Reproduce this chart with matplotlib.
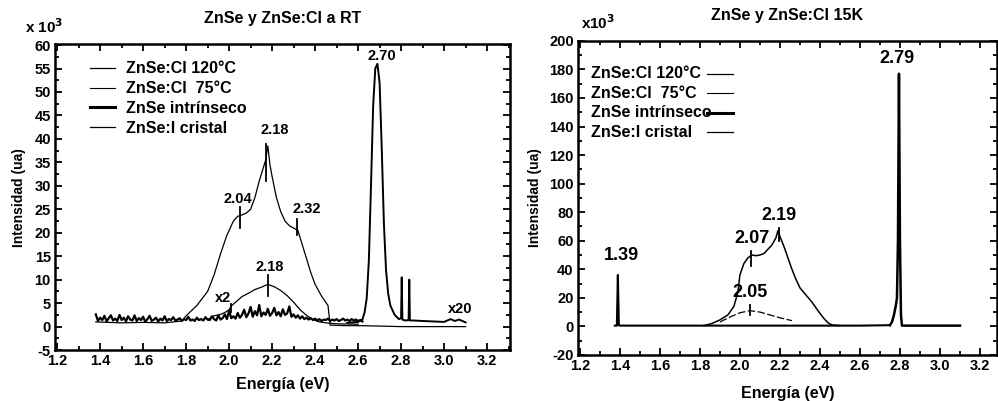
import numpy as np
import matplotlib
matplotlib.use("Agg")
import matplotlib.pyplot as plt
from matplotlib.ticker import MultipleLocator
from matplotlib.lines import Line2D

plt.rcParams['font.family'] = ['Liberation Sans', 'DejaVu Sans']
plt.rcParams['font.weight'] = 'bold'
plt.rcParams['axes.unicode_minus'] = False

# ---------------- left panel: room temperature ----------------
rt_cl120_e = [1.38, 1.50, 1.60, 1.70, 1.78, 1.80, 1.85, 1.90, 1.93, 1.96, 1.99, 2.02, 2.04,
              2.06, 2.08, 2.10, 2.12, 2.14, 2.16, 2.17, 2.18, 2.19, 2.20, 2.22, 2.24, 2.26,
              2.28, 2.30, 2.32, 2.34, 2.36, 2.38, 2.40, 2.43, 2.46, 2.47, 2.55, 2.62,
              2.80, 3.10]
rt_cl120_i = [1.0, 0.8, 0.9, 0.8, 1.2, 2.3, 4.5, 7.5, 11.0, 15.5, 19.5, 22.5, 23.5,
              23.8, 24.2, 25.0, 27.5, 31.0, 34.0, 35.5, 38.5, 34.5, 32.0, 27.5, 24.5, 22.5,
              21.5, 21.0, 20.5, 17.5, 14.5, 11.5, 9.0, 6.5, 4.5, 0.3, 0.2, 0.2,
              0.0, 0.0]

rt_cl75_e = [1.90, 1.93, 1.96, 1.98, 2.00, 2.01, 2.03, 2.06, 2.09, 2.12, 2.15, 2.18, 2.21,
             2.24, 2.27, 2.30, 2.33, 2.36, 2.39, 2.42, 2.45, 2.50, 2.60]
rt_cl75_i = [1.5, 2.3, 2.6, 3.0, 3.6, 4.4, 5.2, 6.4, 7.1, 7.9, 8.4, 9.0, 8.5,
             7.7, 6.6, 5.2, 3.6, 2.4, 1.5, 1.0, 0.8, 0.6, 0.5]

rt_intr_i = [2.6, 1.2, 1.9, 1.4, 2.3, 1.1, 1.8, 2.4, 1.3, 1.7,
             1.2, 2.5, 1.4, 1.9, 1.1, 2.2, 1.5, 1.3, 2.4, 1.2,
             1.8, 1.4, 2.1, 1.0, 1.6, 2.3, 1.2, 1.5, 1.9, 1.1,
             1.7, 1.3, 2.2, 1.2, 1.6, 1.4, 2.0, 1.3, 1.5, 1.8,
             1.2, 1.6, 1.4, 2.1, 1.3, 1.5, 1.2, 1.9, 1.4, 1.6,
             1.3, 2.0, 1.5, 1.4, 2.2, 1.6, 1.3, 2.4, 1.5, 1.8,
             2.6, 1.6, 3.4, 1.8, 2.2, 1.7, 2.9, 1.9, 2.5, 3.6,
             2.0, 2.8, 4.2, 2.1, 3.3, 2.4, 4.6, 2.2, 3.0, 2.5,
             3.8, 2.3, 2.9, 4.0, 2.4, 3.1, 2.2, 3.7, 2.5, 2.8,
             4.3, 2.1, 2.6, 1.9, 2.4, 1.7, 2.2, 1.6, 1.9, 1.5,
             1.8, 1.4, 1.7, 1.3, 1.6, 1.2, 1.5, 1.4, 1.7, 1.2,
             1.5, 1.3, 1.6, 1.2, 1.4, 1.7, 1.3, 1.5, 1.2, 1.6,
             1.3, 1.5, 1.2, 1.4, 1.1]
rt_intr_e = np.linspace(1.38, 2.62, len(rt_intr_i))

rt_cris_e = [2.55, 2.60, 2.62, 2.63, 2.64, 2.65, 2.66, 2.67, 2.68, 2.69, 2.70, 2.71, 2.72,
             2.73, 2.74, 2.75, 2.77, 2.79, 2.80, 2.803, 2.806, 2.82, 2.835, 2.838, 2.841,
             2.86, 2.90, 2.95, 3.00, 3.03, 3.05, 3.07, 3.10]
rt_cris_i = [0.8, 1.0, 1.5, 3.0, 6.0, 14.0, 30.0, 47.0, 55.0, 56.0, 52.0, 38.0, 22.0,
             12.0, 7.0, 4.5, 2.5, 1.6, 1.8, 10.5, 1.5, 1.3, 1.4, 10.0, 1.3,
             1.3, 1.2, 1.1, 1.0, 1.6, 1.2, 1.5, 0.9]

# peak marks (energy, low, high) and labels (text, x, y)
rt_marks = [(2.05, 21.0, 25.5), (2.17, 31.0, 39.0), (2.316, 19.5, 23.0),
            (2.18, 6.6, 11.0), (2.01, 3.2, 4.8)]
rt_labels = [("2.04", 2.04, 25.6), ("2.18", 2.21, 40.3), ("2.32", 2.36, 23.5),
             ("2.18", 2.19, 11.3), ("x2", 1.97, 4.6), ("2.70", 2.71, 56.2),
             ("x20", 3.075, 2.2)]

# ---------------- right panel: 15 K ----------------
lt_intr_e = [1.375, 1.385, 1.39, 1.395, 1.40, 1.60, 1.80, 2.00, 2.20, 2.45, 2.60, 2.75]
lt_intr_i = [0.5, 0.5, 36.0, 0.8, 0.5, 0.5, 0.5, 0.5, 0.5, 0.5, 0.5, 0.8]

lt_cris_e = [2.75, 2.76, 2.77, 2.78, 2.785, 2.79, 2.795, 2.80, 2.805, 2.81, 2.82, 3.10]
lt_cris_i = [0.8, 3.0, 8.0, 15.0, 20.0, 60.0, 177.0, 60.0, 8.0, 0.5, 0.5, 0.5]

lt_cl120_e = [1.82, 1.86, 1.90, 1.94, 1.97, 1.99, 2.00, 2.02, 2.04, 2.06, 2.08, 2.10, 2.12,
              2.14, 2.16, 2.18, 2.19, 2.20, 2.22, 2.24, 2.26, 2.28, 2.30, 2.33, 2.36, 2.39,
              2.42, 2.44, 2.46, 2.50]
lt_cl120_i = [0.5, 2.0, 4.5, 8.0, 14.0, 24.0, 36.0, 44.0, 48.0, 50.0, 49.5, 50.0, 51.0,
              54.0, 57.0, 62.0, 67.0, 63.0, 56.0, 48.0, 40.0, 33.0, 27.0, 22.0, 17.0, 11.0,
              5.5, 2.5, 1.0, 0.5]

lt_cl75_e = [1.90, 1.95, 2.00, 2.05, 2.10, 2.15, 2.20, 2.26]
lt_cl75_i = [3.0, 6.5, 9.5, 11.0, 10.0, 8.0, 6.0, 4.0]

lt_marks = [(2.055, 42.0, 53.0), (2.195, 60.0, 69.0), (2.05, 8.0, 15.0)]
lt_labels = [("1.39", 1.41, 44.0), ("2.07", 2.06, 55.5), ("2.19", 2.195, 71.5),
             ("2.05", 2.05, 17.5), ("2.79", 2.785, 182.0)]

legend_names = ["ZnSe:Cl 120°C", "ZnSe:Cl  75°C", "ZnSe intrínseco", "ZnSe:I cristal"]
legend_widths = [0.9, 0.8, 2.2, 0.9]

FS = 10.5
fig = plt.figure(figsize=(9.98, 4.01), dpi=100)
ax1 = fig.add_axes([0.0551, 0.127, 0.456, 0.763])
ax2 = fig.add_axes([0.579, 0.115, 0.420, 0.783])


def style_axes(ax, xlim, ylim, ymaj, ymin, xpad, ypad):
    ax.set_xlim(*xlim)
    ax.set_ylim(*ylim)
    ax.xaxis.set_major_locator(MultipleLocator(0.2))
    ax.xaxis.set_minor_locator(MultipleLocator(0.1))
    ax.yaxis.set_major_locator(MultipleLocator(ymaj))
    ax.yaxis.set_minor_locator(MultipleLocator(ymin))
    ax.tick_params(which='both', direction='in', top=True, right=True,
                   labelsize=FS, width=1.3, pad=3)
    ax.tick_params(which='major', length=5)
    ax.tick_params(which='minor', length=3)
    ax.xaxis.set_major_formatter(plt.FuncFormatter(lambda v, p: f'{v:.1f}'))
    for s in ax.spines.values():
        s.set_linewidth(1.8)
    for lab in ax.get_xticklabels() + ax.get_yticklabels():
        lab.set_fontweight('bold')
    ax.set_xlabel('Energía (eV)', fontsize=11.5, fontweight='bold', labelpad=xpad)
    ax.set_ylabel('Intensidad (ua)', fontsize=10, fontweight='bold', labelpad=ypad)


# left panel
ax1.plot(rt_cl120_e, rt_cl120_i, color='black', lw=0.9)
ax1.plot(rt_cl75_e, rt_cl75_i, color='black', lw=0.9)
ax1.plot(rt_intr_e, rt_intr_i, color='black', lw=1.6)
ax1.plot(rt_cris_e, rt_cris_i, color='black', lw=1.4)
for e, lo, hi in rt_marks:
    ax1.plot([e, e], [lo, hi], color='black', lw=1.3)
for txt, x, y in rt_labels:
    ax1.text(x, y, txt, ha='center', va='bottom', fontsize=10.5, fontweight='bold')
style_axes(ax1, (1.19, 3.307), (-5, 60.2), 5, 2.5, xpad=6, ypad=6)
ax1.set_title('ZnSe y ZnSe:Cl a RT', fontsize=11.5, fontweight='bold', pad=15)
fig.text(25 / 998, 1 - 27 / 401, 'x 10$^{3}$', fontsize=11, fontweight='bold', va='center')

h1 = [Line2D([], [], color='black', lw=w) for w in legend_widths]
ax1.legend(h1, legend_names, loc='upper left', bbox_to_anchor=(0.055, 0.975),
           frameon=False, fontsize=11.5, handlelength=1.6, handletextpad=0.7,
           labelspacing=0.3, borderaxespad=0.2)

# right panel
ax2.plot(lt_intr_e, lt_intr_i, color='black', lw=1.5)
ax2.plot(lt_cris_e, lt_cris_i, color='black', lw=1.8)
ax2.plot(lt_cl120_e, lt_cl120_i, color='black', lw=1.1)
ax2.plot(lt_cl75_e, lt_cl75_i, color='black', lw=0.9, dashes=(6, 2))
for e, lo, hi in lt_marks:
    ax2.plot([e, e], [lo, hi], color='black', lw=1.3)
for txt, x, y in lt_labels:
    ax2.text(x, y, txt, ha='center', va='bottom', fontsize=13)
style_axes(ax2, (1.19, 3.285), (-20, 200), 20, 10, xpad=9, ypad=5)
ax2.set_title('ZnSe y ZnSe:Cl 15K', fontsize=11.5, fontweight='bold', pad=15)
fig.text(1 - 417 / 998, 1 - 23 / 401, 'x10$^{3}$', fontsize=11, fontweight='bold', va='center')

# right legend: text on the left, line samples in a column on the right
for k, (name, w) in enumerate(zip(legend_names, legend_widths)):
    yk = 0.895 - k * 0.062
    ax2.text(0.031, yk, name, transform=ax2.transAxes, fontsize=11.5,
             fontweight='bold', va='center', ha='left')
    ax2.plot([0.308, 0.37], [yk, yk], transform=ax2.transAxes, color='black', lw=w)

fig.savefig('out.png', dpi=100)
